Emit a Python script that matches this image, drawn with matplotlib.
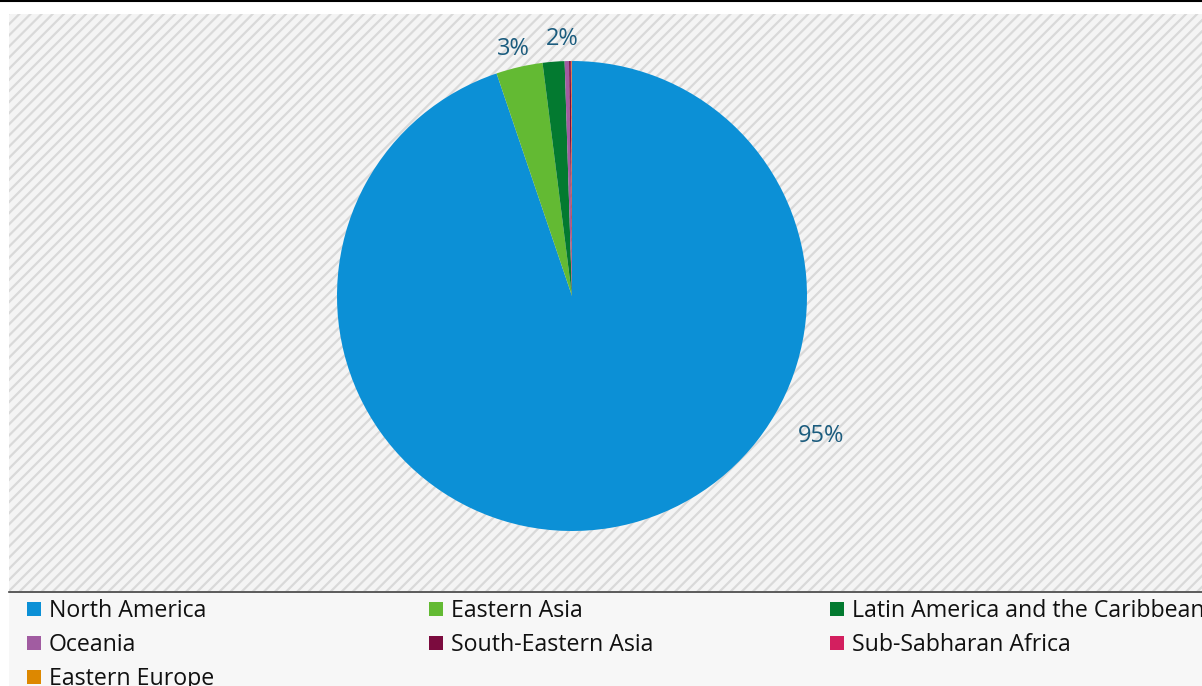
import matplotlib
matplotlib.use("Agg")
import matplotlib.pyplot as plt
from matplotlib.patches import Rectangle

plt.rcParams['font.family'] = ['Open Sans', 'DejaVu Sans']
plt.rcParams['hatch.linewidth'] = 1.6
plt.rcParams['hatch.color'] = '#d9d9d9'

regions = ["North America", "Eastern Asia", "Latin America and the Caribbean",
           "Oceania", "South-Eastern Asia", "Sub-Sabharan Africa", "Eastern Europe"]
shares = [94.8, 3.2, 1.5, 0.3, 0.12, 0.05, 0.03]
colors = ["#0c90d6", "#63ba33", "#037a30", "#a15ca1", "#7b0b3e", "#d31f5f", "#dd8800"]
# only the three biggest slices carry a label in the original
shown_labels = {"North America": "95%", "Eastern Asia": "3%",
                "Latin America and the Caribbean": "2%"}
label_pos = {"North America": (1.06, -0.595), "Eastern Asia": (-0.25, 1.052),
             "Latin America and the Caribbean": (-0.04, 1.093)}

W, H = 1202, 686
fig = plt.figure(figsize=(W / 100, H / 100), dpi=100)
fig.patch.set_facecolor('white')

# top rule
fig.add_artist(plt.Line2D([0, 1], [1 - 1 / H, 1 - 1 / H], color='black', lw=1.5))

# hatched plot area
bg = fig.add_axes([9 / W, (H - 591) / H, 1 - 9 / W, (591 - 14) / H])
bg.add_patch(Rectangle((0, 0), 1, 1, transform=bg.transAxes, facecolor='#f4f4f4',
                       edgecolor='#d9d9d9', hatch='///', lw=0))
bg.set_axis_off()

# legend area
lg = fig.add_axes([9 / W, 0, 1 - 9 / W, (H - 592) / H])
lg.add_patch(Rectangle((0, 0), 1, 1, transform=lg.transAxes, facecolor='#f7f7f7', lw=0))
lg.set_axis_off()
fig.add_artist(plt.Line2D([9 / W, 1], [(H - 591.5) / H] * 2, color='#404040', lw=1.2))

# pie
cx, cy, r = 572, 296, 235
ax = fig.add_axes([(cx - r) / W, (H - cy - r) / H, 2 * r / W, 2 * r / H])
ax.pie(shares, colors=colors, startangle=90, counterclock=False, radius=1,
       wedgeprops=dict(linewidth=0))
ax.set_xlim(-1, 1)
ax.set_ylim(-1, 1)
ax.set_axis_off()
for name in regions:
    if name in shown_labels:
        x, y = label_pos[name]
        ax.text(x, y, shown_labels[name], ha='center', va='center',
                fontsize=17, color='#1b5c7e', clip_on=False)

# legend, row by row, three columns
col_x = [27, 429, 830]
row_y = [609, 643, 677]
for i, (name, c) in enumerate(zip(regions, colors)):
    px = col_x[i % 3]
    py = row_y[i // 3]
    fig.add_artist(Rectangle((px / W, (H - py - 7) / H), 14 / W, 14 / H,
                             transform=fig.transFigure, facecolor=c, lw=0))
    fig.text((px + 22) / W, (H - py - 2) / H, name, ha='left', va='center',
             fontsize=16.7, color='#111111')

fig.savefig("out.png", dpi=100)
